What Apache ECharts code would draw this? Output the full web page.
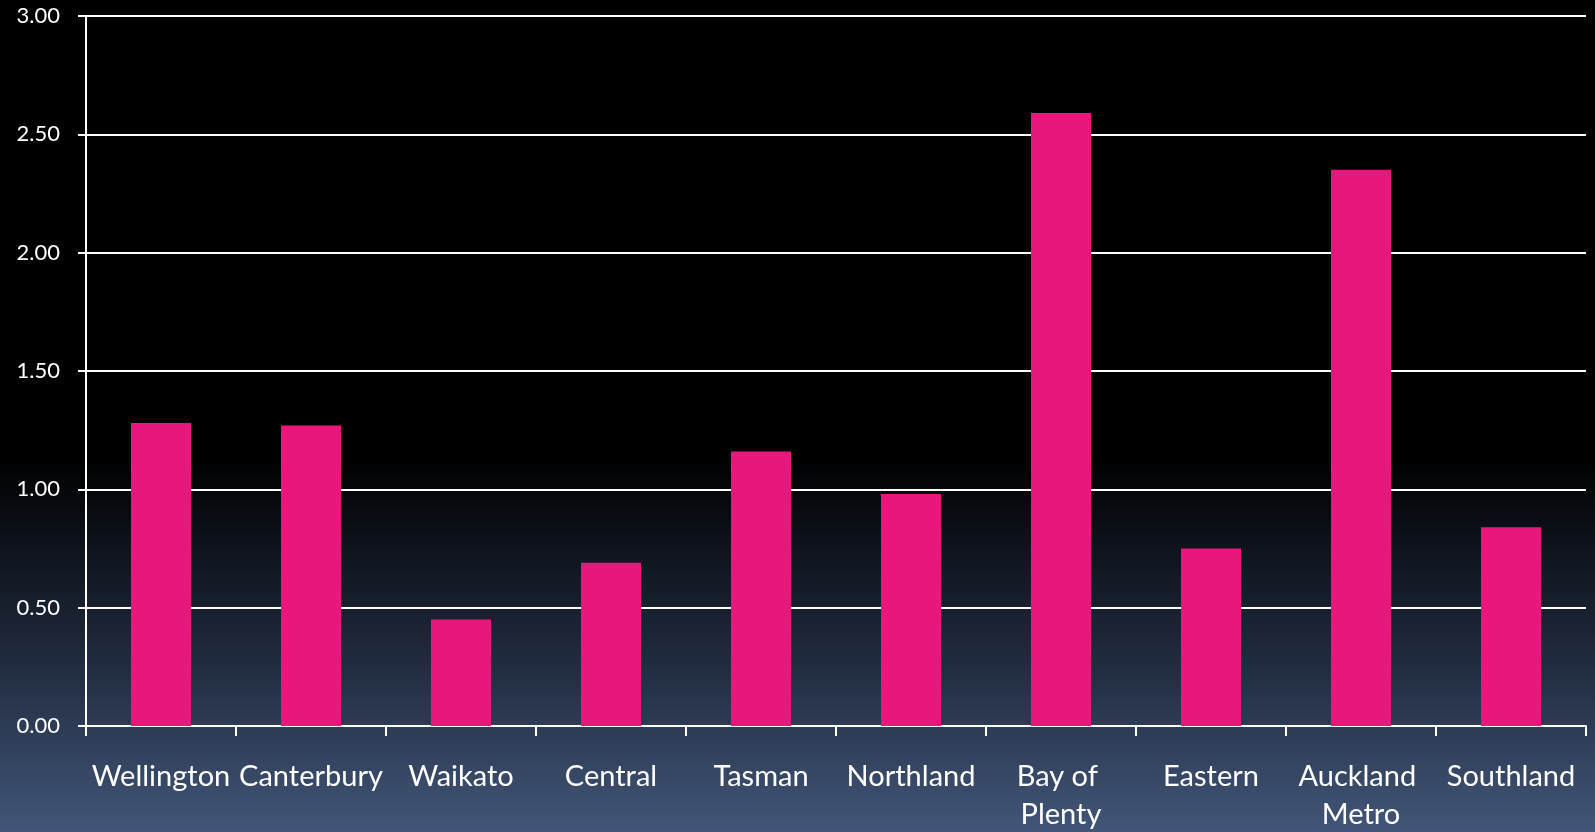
<!DOCTYPE html>
<html>
<head>
<meta charset="utf-8">
<script src="https://cdn.jsdelivr.net/npm/echarts@6/dist/echarts.min.js"></script>
<style>
  html, body { margin: 0; padding: 0; }
  #chart { width: 1595px; height: 832px; }
</style>
</head>
<body>
<div id="chart"></div>
<script>
// regions along the x axis
var regions = ["Wellington", "Canterbury", "Waikato", "Central", "Tasman",
  "Northland", "Bay of Plenty", "Eastern", "Auckland Metro", "Southland"];
// bar values
var values = [1.28, 1.27, 0.45, 0.69, 1.16, 0.98, 2.59, 0.75, 2.35, 0.84];

var chart = echarts.init(document.getElementById("chart"));
var option = {
  // dark slide background, black fading to slate blue
  backgroundColor: {
    type: "linear", x: 0, y: 0, x2: 0, y2: 1,
    colorStops: [
      { offset: 0, color: "#000000" },
      { offset: 0.55, color: "#000000" },
      { offset: 0.8, color: "#212c40" },
      { offset: 1, color: "#425678" }
    ]
  },
  animation: false,
  // keep the plot box fixed, the two-line labels may run to the edge
  grid: { left: 86, right: 9, top: 16, bottom: 106, outerBoundsMode: "none" },
  xAxis: {
    type: "category",
    data: regions,
    axisLine: { lineStyle: { color: "#ffffff", width: 2 } },
    axisTick: { show: true, length: 10, lineStyle: { color: "#ffffff", width: 2 } },
    axisLabel: {
      interval: 0,
      color: "#ffffff",
      fontFamily: "Lato",
      fontSize: 29,
      lineHeight: 38,
      margin: 32,
      width: 150,
      overflow: "break"
    }
  },
  yAxis: {
    type: "value",
    min: 0,
    max: 3,
    interval: 0.5,
    axisLine: { show: true, lineStyle: { color: "#ffffff", width: 2 } },
    axisTick: { show: true, length: 8, lineStyle: { color: "#ffffff", width: 2 } },
    splitLine: { lineStyle: { color: "#ffffff", width: 2 } },
    axisLabel: {
      color: "#ffffff",
      fontFamily: "Lato",
      fontSize: 22,
      margin: 26,
      formatter: function (v) { return v.toFixed(2); }
    }
  },
  series: [{
    type: "bar",
    data: values,
    barWidth: "40%",
    itemStyle: { color: "#e9177c" }
  }]
};
chart.setOption(option);
</script>
</body>
</html>
